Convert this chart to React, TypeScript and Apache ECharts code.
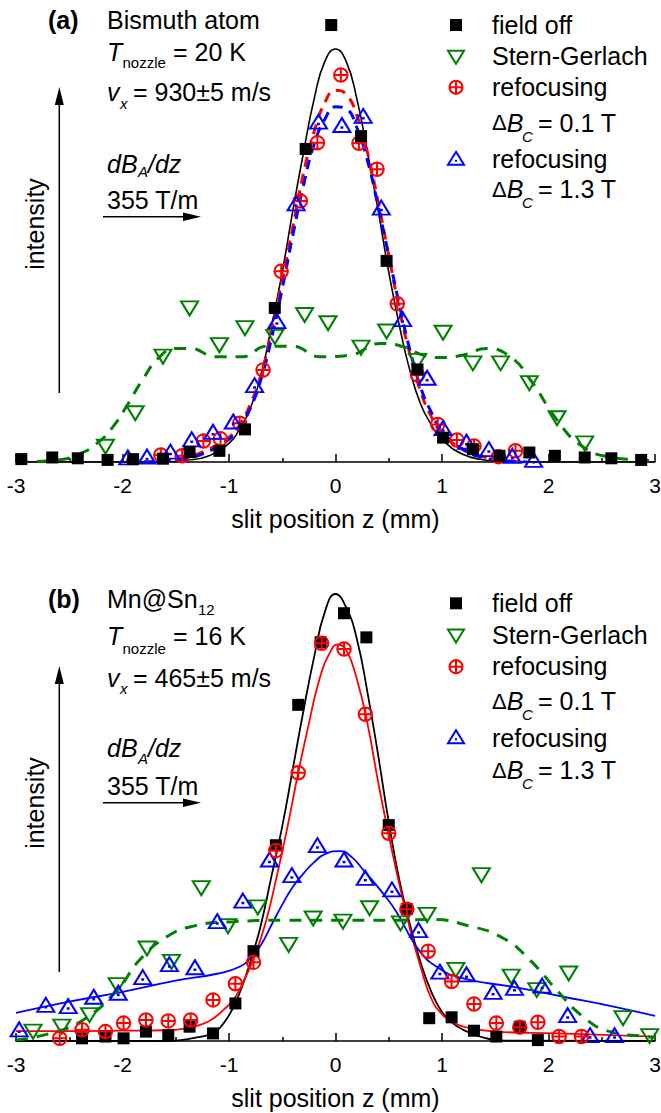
import React, { useEffect, useRef } from "react";
import * as echarts from "echarts";

// ---------- panel (a): Bismuth atom ----------
const aFieldOff: [number, number][] = [
  [-2.95, 0.7], [-2.66, 1.1], [-2.42, 0.9], [-2.14, 0.5], [-1.9, 0.7], [-1.62, 0.8],
  [-1.37, 2.4], [-1.09, 2.7], [-0.85, 7.9], [-0.57, 37.3], [-0.28, 75.8], [-0.04, 105.8],
  [0.24, 78.9], [0.48, 48.7], [0.77, 22.4], [1.01, 5.9], [1.29, 3.1], [1.54, 1.5],
  [1.82, 2.3], [2.06, 1.5], [2.34, 1.1], [2.59, 0.9], [2.87, 0.5],
];
const aSternGerlach: [number, number][] = [
  [-2.16, 3.7], [-1.88, 11.8], [-1.62, 25.5], [-1.37, 37.2], [-1.09, 28.3], [-0.85, 32.4],
  [-0.57, 30.3], [-0.29, 35.6], [-0.07, 33.6], [0.24, 27.7], [0.48, 31.6], [0.77, 24.5],
  [1.01, 31.3], [1.29, 23.9], [1.55, 23.9], [1.82, 19.1], [2.08, 10.6], [2.34, 4.5],
];
const aRefocusLow: [number, number][] = [
  [-1.64, 1.7], [-1.44, 1.5], [-1.24, 5.1], [-1.08, 5.6], [-0.9, 9.4], [-0.68, 22.3],
  [-0.51, 46.2], [-0.33, 63.2], [-0.17, 77.3], [0.05, 93.7], [0.22, 77.2], [0.39, 70.9],
  [0.58, 38.3], [0.77, 21.1], [0.96, 9.1], [1.14, 5.3], [1.3, 3.9], [1.53, 1.3], [1.69, 2.7],
];
const aRefocusHigh: [number, number][] = [
  [-1.95, 1.1], [-1.77, 1.3], [-1.55, 2.5], [-1.35, 5.5], [-1.15, 7.3], [-0.96, 9.8],
  [-0.76, 18.6], [-0.55, 34.1], [-0.37, 62.6], [-0.16, 82.4], [0.06, 81.6], [0.26, 83.8],
  [0.43, 61.6], [0.63, 34.6], [0.86, 20.4], [1.01, 8.2], [1.23, 4.9], [1.44, 3.1],
  [1.66, 1.5], [1.86, 0.5],
];
// fitted curves, panel (a)
const aFitFieldOff: [number, number][] = [
  [-3, 0], [-2, 0], [-1.6, 0], [-1.4, 0.4], [-1.2, 1.4], [-1.0, 4.5], [-0.9, 8], [-0.8, 13],
  [-0.7, 21], [-0.6, 33], [-0.5, 46], [-0.4, 61], [-0.3, 75], [-0.2, 88], [-0.1, 97], [0, 100],
  [0.1, 97], [0.2, 88], [0.3, 75], [0.4, 61], [0.5, 46], [0.6, 33], [0.7, 22], [0.8, 14],
  [0.9, 9], [1.0, 5.5], [1.2, 1.8], [1.4, 0.5], [1.6, 0], [2, 0], [3, 0],
];
const aFitRefocusLow: [number, number][] = [
  [-1.8, 0], [-1.6, 0.3], [-1.4, 1.2], [-1.2, 3], [-1.0, 6], [-0.9, 9], [-0.8, 14], [-0.7, 21],
  [-0.6, 32], [-0.5, 44], [-0.4, 57], [-0.3, 70], [-0.2, 80], [-0.1, 87], [0, 90], [0.1, 89],
  [0.2, 84], [0.3, 75], [0.4, 63], [0.5, 50], [0.6, 37], [0.7, 26], [0.8, 17], [0.9, 11],
  [1.0, 7], [1.2, 3], [1.4, 1.2], [1.6, 0.3], [1.8, 0],
];
const aFitRefocusHigh: [number, number][] = [
  [-1.8, 0], [-1.6, 0.2], [-1.4, 0.8], [-1.2, 2.5], [-1.0, 5.5], [-0.9, 8.5], [-0.8, 13],
  [-0.7, 20], [-0.6, 30], [-0.5, 42], [-0.4, 55], [-0.3, 67], [-0.2, 77], [-0.1, 83], [0, 86],
  [0.1, 85.5], [0.2, 81], [0.3, 73], [0.4, 62], [0.5, 50], [0.6, 38], [0.7, 27], [0.8, 18],
  [0.9, 12], [1.0, 7.5], [1.2, 3], [1.4, 1], [1.6, 0.3], [1.8, 0],
];
const aFitSternGerlach: [number, number][] = [
  [-3, 0], [-2.6, 0.5], [-2.4, 2], [-2.24, 4.5], [-2.09, 8.5], [-1.95, 14], [-1.81, 20],
  [-1.65, 25.5], [-1.5, 27.5], [-1.37, 27.5], [-1.12, 25.5], [-0.87, 25.5], [-0.65, 28],
  [-0.4, 28], [-0.15, 25.5], [0.14, 25.9], [0.42, 28.7], [0.64, 27.9], [0.82, 25.9],
  [0.98, 25.3], [1.2, 25.9], [1.42, 27.5], [1.64, 25.5], [1.83, 19.9], [2.08, 10.2],
  [2.3, 4.1], [2.55, 1.3], [2.86, 0.5], [3, 0.3],
];

// ---------- panel (b): Mn@Sn12 ----------
const bFieldOff: [number, number][] = [
  [-2.38, 0.6], [-2.16, 1.0], [-1.99, 0.6], [-1.78, 2.1], [-1.57, 1.3], [-1.37, 3.2],
  [-1.15, 1.7], [-0.94, 8.4], [-0.77, 20.1], [-0.56, 43.8], [-0.35, 75.2], [-0.14, 89.2],
  [0.08, 95.7], [0.29, 90.3], [0.5, 48.3], [0.67, 29.5], [0.88, 5.1], [1.09, 5.3],
  [1.3, 2.3], [1.51, 1.0], [1.73, 3.2], [1.9, 0.2],
];
const bSternGerlach: [number, number][] = [
  [-2.84, 2.1], [-2.57, 3.2], [-2.31, 5.8], [-2.05, 12.5], [-1.77, 20.7], [-1.54, 17.7],
  [-1.26, 34.2], [-1.01, 25.7], [-0.73, 29.9], [-0.44, 21.5], [-0.21, 27.4], [0.07, 26.7],
  [0.32, 29.7], [0.61, 26.3], [0.86, 28.2], [1.13, 15.9], [1.37, 37.1], [1.65, 14.4],
  [1.89, 11.4], [2.19, 15.1], [2.7, 5.1], [2.95, 1.1],
];
const bRefocusLow: [number, number][] = [
  [-2.59, 0.6], [-2.38, 2.5], [-2.16, 2.1], [-1.99, 4.0], [-1.78, 4.7], [-1.57, 4.5],
  [-1.36, 4.7], [-1.15, 9.2], [-0.94, 12.8], [-0.77, 17.6], [-0.56, 42.6], [-0.35, 60.0],
  [-0.13, 89.0], [0.08, 87.7], [0.28, 73.1], [0.5, 46.5], [0.67, 29.5], [0.87, 20.1],
  [1.09, 13.3], [1.3, 8.3], [1.51, 4.0], [1.73, 3.1], [1.9, 4.2], [2.1, 1.0], [2.31, 1.0],
];
const bRefocusHigh: [number, number][] = [
  [-2.97, 2.6], [-2.72, 8.1], [-2.51, 7.8], [-2.27, 9.9], [-2.04, 10.8], [-1.81, 14.3],
  [-1.56, 17.2], [-1.32, 16.5], [-1.11, 26.8], [-0.87, 31.4], [-0.62, 40.6], [-0.41, 37.1],
  [-0.17, 43.8], [0.08, 40.6], [0.28, 36.5], [0.53, 33.9], [0.78, 24.8], [0.98, 15.5],
  [1.23, 14.9], [1.48, 11.0], [1.68, 11.9], [1.94, 12.4], [2.18, 5.8], [2.39, 1.3], [2.62, 1.3],
];
// fitted curves, panel (b)
const bFitFieldOff: [number, number][] = [
  [-3, 0], [-1.6, 0], [-1.45, 0.2], [-1.3, 0.8], [-1.15, 1.8], [-1.05, 4], [-0.95, 8],
  [-0.85, 14], [-0.77, 20], [-0.7, 26], [-0.6, 37], [-0.5, 48], [-0.4, 61], [-0.3, 74],
  [-0.2, 86], [-0.1, 96], [0, 100], [0.1, 97], [0.2, 90], [0.3, 78], [0.4, 64], [0.5, 49],
  [0.6, 36], [0.7, 26], [0.8, 17.5], [0.9, 11], [1.0, 6.5], [1.1, 4], [1.2, 2.5], [1.4, 0.7],
  [1.6, 0.1], [3, 0],
];
const bFitRefocusLow: [number, number][] = [
  [-3, 2.2], [-2.5, 2.2], [-2, 2.3], [-1.6, 2.4], [-1.4, 2.8], [-1.25, 3.8], [-1.15, 5],
  [-1.05, 7], [-0.95, 9.5], [-0.85, 14], [-0.75, 19.5], [-0.65, 27], [-0.55, 37], [-0.45, 48],
  [-0.35, 60], [-0.25, 71], [-0.15, 81], [-0.05, 87], [0.02, 88.7], [0.1, 87.5], [0.2, 81],
  [0.3, 71], [0.4, 58], [0.5, 46], [0.6, 35], [0.7, 25], [0.8, 16.5], [0.9, 9.5], [1.0, 6],
  [1.1, 4.2], [1.2, 3.2], [1.5, 2.1], [2.1, 1.7], [3, 1.0],
];
const bFitRefocusHigh: [number, number][] = [
  [-3, 6.3], [-2.5, 8.8], [-2, 11], [-1.5, 13.5], [-1.1, 15.1], [-0.9, 16.6], [-0.8, 18.5],
  [-0.7, 21.5], [-0.6, 26], [-0.5, 30.5], [-0.4, 34.5], [-0.3, 37.5], [-0.2, 40], [-0.1, 41.8],
  [0.04, 42.5], [0.15, 41.2], [0.26, 38.3], [0.42, 33.8], [0.58, 28.6], [0.76, 21.1],
  [0.95, 16.6], [1.2, 14], [1.67, 12.1], [2.14, 9.9], [2.61, 7.7], [3, 5.6],
];
const bFitSternGerlach: [number, number][] = [
  [-3, 0.2], [-2.68, 1.7], [-2.37, 4.7], [-2.05, 11.4], [-1.84, 18.1], [-1.585, 23.3],
  [-1.335, 25.7], [-0.96, 26.7], [-0.5, 27], [0, 27], [0.5, 27], [0.887, 27.2], [1.263, 25.7],
  [1.575, 23], [1.826, 18.1], [2.077, 11.4], [2.327, 5.4], [2.577, 2.1], [2.92, 1], [3, 0.8],
];

const xTicks = { min: -3, max: 3, interval: 1 };
const AXIS_NAME = "slit position z (mm)";

const FONT = '"Liberation Sans", Arial, Helvetica, sans-serif';
const FS = 25;
const BLACK = "#000000";
const GREEN = "#008000";
const RED = "#ff0000";
const BLUE = "#0000ff";

const SYM_DOWN = "path://M0,0L100,0L50,82Z";
const SYM_UP = "path://M50,0L100,82L0,82Z M48,53L52,53L52,57L48,57Z";
const SYM_CPLUS =
  "path://M0,50A50,50 0 1,1 100,50A50,50 0 1,1 0,50Z M50,0L50,100 M0,50L100,50";

function scatter(data: [number, number][], symbol: string, size: any, color: string, filled: boolean, g: number, z: number) {
  return {
    type: "scatter",
    xAxisIndex: g,
    yAxisIndex: g,
    data,
    symbol,
    symbolSize: size,
    z,
    silent: true,
    itemStyle: filled
      ? { color, opacity: 1 }
      : { color: "transparent", borderColor: color, borderWidth: 2, opacity: 1 },
  };
}

function curve(data: [number, number][], color: string, width: number, dash: any, g: number, z: number) {
  return {
    type: "line",
    xAxisIndex: g,
    yAxisIndex: g,
    data,
    symbol: "none",
    showSymbol: false,
    smooth: true,
    silent: true,
    z,
    lineStyle: { color, width, type: dash, opacity: 1 },
  };
}

function xAxis(g: number) {
  return {
    type: "value",
    gridIndex: g,
    ...xTicks,
    axisLine: { show: true, onZero: false, lineStyle: { color: BLACK, width: 1.5 } },
    axisTick: { show: true, inside: true, length: 8, lineStyle: { color: BLACK, width: 1.5 } },
    minorTick: { show: true, splitNumber: 2, length: 4, lineStyle: { color: BLACK, width: 1.5 } },
    splitLine: { show: false },
    axisLabel: { color: BLACK, fontSize: 21, fontFamily: FONT, margin: 13 },
    name: AXIS_NAME,
    nameLocation: "middle",
    nameGap: 44,
    nameTextStyle: { color: BLACK, fontSize: FS, fontFamily: FONT },
  };
}

function yAxis(g: number) {
  return { type: "value", gridIndex: g, min: 0, max: 110, show: false };
}

function txt(x: number, y: number, text: string, size = FS, extra: any = {}) {
  return {
    type: "text",
    x,
    y,
    z: 50,
    silent: true,
    style: {
      text,
      fill: BLACK,
      fontSize: size,
      fontFamily: FONT,
      align: "left",
      verticalAlign: "middle",
      textAlign: "left",
      textVerticalAlign: "middle",
      ...extra,
    },
  };
}
const IT = { fontStyle: "italic" };

function line(x1: number, y1: number, x2: number, y2: number, color = BLACK, w = 1.5) {
  return { type: "line", silent: true, z: 50, shape: { x1, y1, x2, y2 }, style: { stroke: color, lineWidth: w } };
}
function poly(points: number[][], style: any) {
  return { type: "polygon", silent: true, z: 50, shape: { points }, style };
}

// legend glyphs
function keySquare(cx: number, cy: number) {
  return [{ type: "rect", silent: true, z: 50, shape: { x: cx - 6, y: cy - 6, width: 12, height: 12 }, style: { fill: BLACK } }];
}
function keyDown(cx: number, cy: number) {
  return [poly([[cx - 8, cy - 6.5], [cx + 8, cy - 6.5], [cx, cy + 6.5]], { fill: "none", stroke: GREEN, lineWidth: 2 })];
}
function keyCirclePlus(cx: number, cy: number) {
  return [
    { type: "circle", silent: true, z: 50, shape: { cx: cx, cy: cy, r: 6.5 }, style: { fill: "none", stroke: RED, lineWidth: 2 } },
    line(cx, cy - 6.5, cx, cy + 6.5, RED, 2),
    line(cx - 6.5, cy, cx + 6.5, cy, RED, 2),
  ];
}
function keyUp(cx: number, cy: number) {
  return [
    poly([[cx, cy - 6.5], [cx + 8, cy + 6.5], [cx - 8, cy + 6.5]], { fill: "none", stroke: BLUE, lineWidth: 2 }),
    { type: "circle", silent: true, z: 50, shape: { cx: cx, cy: cy + 2.5, r: 1.2 }, style: { fill: BLUE } },
  ];
}

function legend(
  rows: { fo: number; sg: number; r1: number; d1: number; c1: number; r2: number; d2: number; c2: number },
  marks: { fo: number; sg: number; r1: number; r2: number }
) {
  const mx = 456;
  const tx = 492;
  return [
    ...keySquare(mx, marks.fo),
    ...keyDown(mx, marks.sg),
    ...keyCirclePlus(mx, marks.r1),
    ...keyUp(mx, marks.r2),
    txt(tx, rows.fo, "field off"),
    txt(tx, rows.sg, "Stern-Gerlach"),
    txt(tx, rows.r1, "refocusing"),
    txt(tx, rows.d1, "\u0394", 22),
    txt(506.7, rows.d1, "B", FS, IT),
    txt(522, rows.c1, "C", 15, IT),
    txt(538, rows.d1, "= 0.1 T"),
    txt(tx, rows.r2, "refocusing"),
    txt(tx, rows.d2, "\u0394", 22),
    txt(506.7, rows.d2, "B", FS, IT),
    txt(522, rows.c2, "C", 15, IT),
    txt(538, rows.d2, "= 1.3 T"),
  ];
}

function rotated(el: any) {
  el.rotation = Math.PI / 2;
  return el;
}

function buildGraphics() {
  const panelA = [
    txt(48, 20, "(a)", FS, { fontWeight: "bold" }),
    txt(107, 20, "Bismuth atom"),
    txt(107, 51.7, "T", FS, IT),
    txt(122.5, 62.8, "nozzle", 15),
    txt(173, 51.7, "= 20 K"),
    txt(107, 91.7, "v", FS, IT),
    txt(120, 103, "x", 15, IT),
    txt(133, 91.7, "= 930\u00b15 m/s"),
    txt(107, 163.7, "dB", FS, IT),
    txt(138, 171.5, "A", 15, IT),
    txt(148, 163.7, "/dz", FS, IT),
    txt(107, 200, "355 T/m"),
    line(59.3, 100, 59.3, 393),
    poly([[59.3, 87], [54.8, 105], [63.8, 105]], { fill: BLACK }),
    rotated(txt(35, 224, "intensity", FS, { align: "center", textAlign: "center" })),
    line(103, 216.7, 190, 216.7),
    poly([[201, 216.7], [183, 212.5], [183, 220.9]], { fill: BLACK }),
    ...legend(
      { fo: 25, sg: 56, r1: 87.2, d1: 122.5, c1: 136, r2: 158.5, d2: 189, c2: 202.5 },
      { fo: 25, sg: 57.3, r1: 87.3, r2: 158.3 }
    ),
  ];

  const panelB = [
    txt(48, 599, "(b)", FS, { fontWeight: "bold" }),
    txt(107, 599, "Mn@Sn"),
    txt(198, 609, "12", 15),
    txt(107, 636, "T", FS, IT),
    txt(122.5, 648.1, "nozzle", 15),
    txt(173, 636, "= 16 K"),
    txt(107, 678.4, "v", FS, IT),
    txt(120, 688, "x", 15, IT),
    txt(133, 678.4, "= 465\u00b15 m/s"),
    txt(107, 748.4, "dB", FS, IT),
    txt(138, 758.8, "A", 15, IT),
    txt(148, 748.4, "/dz", FS, IT),
    txt(107, 786, "355 T/m"),
    line(59.3, 684, 59.3, 972),
    poly([[59.3, 666], [54.8, 684], [63.8, 684]], { fill: BLACK }),
    rotated(txt(35, 803, "intensity", FS, { align: "center", textAlign: "center" })),
    line(103, 802.7, 190, 802.7),
    poly([[201, 802.7], [183, 798.5], [183, 806.9]], { fill: BLACK }),
    ...legend(
      { fo: 603, sg: 634.5, r1: 666, d1: 701, c1: 714.5, r2: 738, d2: 770, c2: 783.5 },
      { fo: 603.3, sg: 636, r1: 666.7, r2: 736.7 }
    ),
  ];
  return [...panelA, ...panelB];
}

function buildOption() {
  return {
    animation: false,
    backgroundColor: "#ffffff",
    grid: [
      { left: 16, top: 7.7, width: 639, height: 454.3, outerBoundsMode: "none", containLabel: false },
      { left: 16, top: 549.3, width: 639, height: 491.7, outerBoundsMode: "none", containLabel: false },
    ],
    xAxis: [xAxis(0), xAxis(1)],
    yAxis: [yAxis(0), yAxis(1)],
    series: [
      // panel (a)
      curve(aFitFieldOff, BLACK, 1.6, "solid", 0, 2),
      curve(aFitRefocusLow, RED, 3, [10, 7], 0, 3),
      curve(aFitRefocusHigh, BLUE, 3, [10, 7], 0, 4),
      curve(aFitSternGerlach, GREEN, 3, [12, 9], 0, 5),
      scatter(aSternGerlach, SYM_DOWN, [17, 14], GREEN, false, 0, 6),
      scatter(aRefocusLow, SYM_CPLUS, 13.5, RED, false, 0, 7),
      scatter(aRefocusHigh, SYM_UP, [17, 14], BLUE, false, 0, 8),
      scatter(aFieldOff, "rect", 12, BLACK, true, 0, 9),
      // panel (b)
      curve(bFitFieldOff, BLACK, 1.8, "solid", 1, 2),
      curve(bFitRefocusLow, RED, 1.8, "solid", 1, 3),
      curve(bFitRefocusHigh, BLUE, 1.8, "solid", 1, 4),
      curve(bFitSternGerlach, GREEN, 3, [12, 9], 1, 5),
      scatter(bSternGerlach, SYM_DOWN, [17, 14], GREEN, false, 1, 6),
      scatter(bRefocusHigh, SYM_UP, [17, 14], BLUE, false, 1, 7),
      scatter(bFieldOff, "rect", 12, BLACK, true, 1, 8),
      scatter(bRefocusLow, SYM_CPLUS, 13.5, RED, false, 1, 9),
    ],
    graphic: { elements: buildGraphics() },
  };
}

export default function App() {
  const ref = useRef<HTMLDivElement>(null);
  useEffect(() => {
    if (!ref.current) return;
    const chart = echarts.init(ref.current, null, { renderer: "svg" });
    chart.setOption(buildOption() as any);
    return () => chart.dispose();
  }, []);
  return (
    <div
      ref={ref}
      style={{ position: "absolute", left: 0, top: 0, width: 661, height: 1113, background: "#fff" }}
    />
  );
}
